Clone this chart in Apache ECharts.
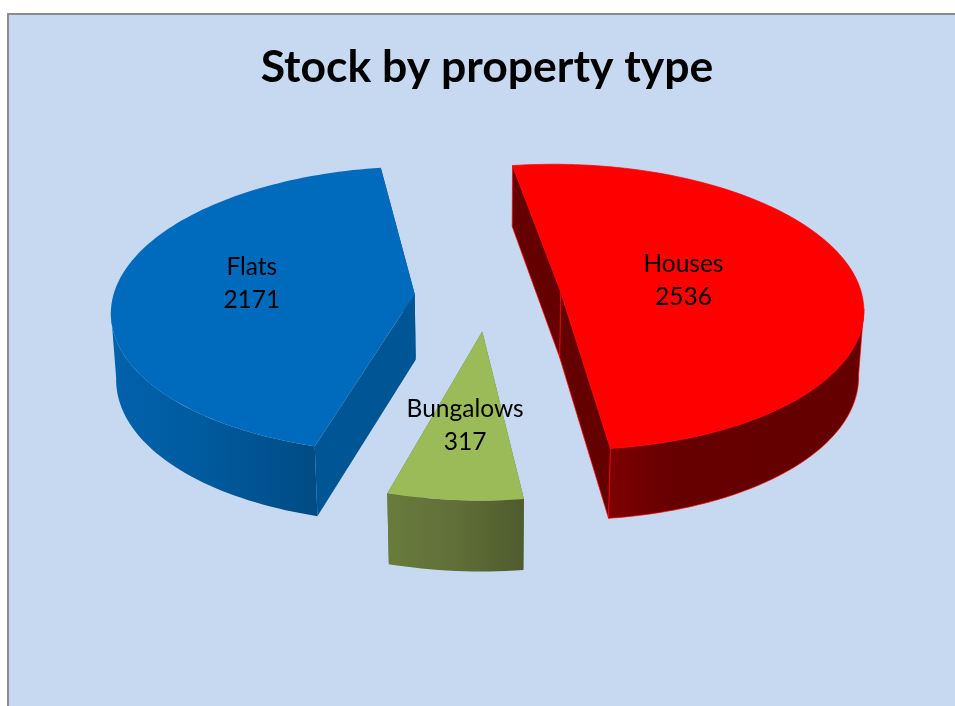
<!DOCTYPE html>
<html>
<head>
<meta charset="utf-8">
<style>html,body{margin:0;padding:0;background:#fff}#c{width:955px;height:706px}</style>
<script src="https://cdn.jsdelivr.net/npm/echarts@6/dist/echarts.min.js"></script>
</head>
<body>
<div id="c"></div>
<script>
const categories = ['Houses', 'Bungalows', 'Flats'];
const values = [2536, 317, 2171];
const titleText = 'Stock by property type';

const topColors = ['#FF0000', '#9BBB59', '#006BBD'];
const cutColors = ['#640000', '#5A6B34', '#005594'];
const edgeColors = ['#FF0000', null, null];
const wallStops = [
  [[0, '#7C0000'], [0.25, '#660000'], [1, '#640000']],
  [[0, '#677D3C'], [0.5, '#616F38'], [1, '#505C2E']],
  [[0, '#0062AB'], [0.45, '#005A9E'], [0.85, '#00508C'], [1, '#004C84']]
];
const wallRange = [[612, 864], [385, 522], [115, 312]];
const labelRadius = [0.41, 0.58, 0.535];
const labelNudge = [[2, -3], [-2, 1], [-3, -6]];

const startAngle = 351.3;
const frontArc = [97, 263];
const view = { cx: 488, cy: 296, rx: 301.5, ry: 142, k: 0.11, kz: 0.014, h: 66, hv: 0.1, explode: 0.244 };
const total = values.reduce((a, b) => a + b, 0);

function project(u, v, z) {
  const f = 1 / (1 - view.k * v + view.kz * z);
  return [view.cx + view.rx * u * f, view.cy + view.ry * v * f + view.h * z * (1 + view.hv * v)];
}

function renderSlice(params, api) {
  const i = params.dataIndex;
  let before = 0;
  for (let j = 0; j < i; j++) before += values[j];
  const span = api.value(0) / total * 360;
  const a0 = startAngle + before / total * 360;
  const a1 = a0 + span;
  const mid = (a0 + a1) / 2 * Math.PI / 180;
  const ou = Math.sin(mid) * view.explode;
  const ov = -Math.cos(mid) * view.explode;
  const rim = (deg, z) => {
    const r = deg * Math.PI / 180;
    return project(ou + Math.sin(r), ov - Math.cos(r), z);
  };
  const arc = (from, to, z) => {
    const pts = [];
    const n = Math.max(8, Math.ceil((to - from) / 1.5));
    for (let s = 0; s <= n; s++) pts.push(rim(from + (to - from) * s / n, z));
    return pts;
  };
  const apex = (z) => project(ou, ov, z);
  const edge = edgeColors[i];
  const stroke = edge ? { stroke: edge, lineWidth: 0.7 } : { stroke: null };
  const children = [];

  // angles normalised to one turn so the visible front of the rim can be picked out
  const base = a0 >= 360 ? a0 - 360 : a0;
  const lo = a0 > 300 && a0 < 360 ? a0 - 360 : base;
  const hi = lo + span;
  const wallFrom = Math.max(lo, frontArc[0]);
  const wallTo = Math.min(hi, frontArc[1]);
  const range = wallRange[i];

  [a1, a0].forEach((deg) => {
    children.push({
      type: 'polygon',
      shape: { points: [apex(0), rim(deg, 0), rim(deg, 1), apex(1)] },
      style: Object.assign({ fill: cutColors[i] }, stroke)
    });
  });
  children.push({
    type: 'polygon',
    shape: { points: arc(wallFrom, wallTo, 0).concat(arc(wallFrom, wallTo, 1).reverse()) },
    style: Object.assign({
      fill: new echarts.graphic.LinearGradient(range[0], 0, range[1], 0,
        wallStops[i].map(s => ({ offset: s[0], color: s[1] })), true)
    }, stroke)
  });
  children.push({
    type: 'polygon',
    shape: { points: [apex(0)].concat(arc(a0, a1, 0)) },
    style: Object.assign({ fill: topColors[i] }, stroke)
  });
  const lp = project(ou + Math.sin(mid) * labelRadius[i], ov - Math.cos(mid) * labelRadius[i], 0);
  children.push({
    type: 'text',
    z2: 10,
    style: {
      text: api.value(1) + '\n' + api.value(0),
      x: lp[0] + labelNudge[i][0],
      y: lp[1] + labelNudge[i][1],
      align: 'center',
      verticalAlign: 'middle',
      fill: '#000',
      font: '24.5px Lato, Carlito, sans-serif',
      lineHeight: 33
    }
  });
  return { type: 'group', children };
}

const chart = echarts.init(document.getElementById('c'), null, { renderer: 'canvas' });
chart.setOption({
  animation: false,
  backgroundColor: '#FFFFFF',
  title: {
    text: titleText,
    left: 482,
    top: 63,
    textAlign: 'center',
    textVerticalAlign: 'middle',
    textStyle: { fontFamily: 'Lato', fontWeight: 'bold', fontSize: 44.5, color: '#000' }
  },
  graphic: [{
    type: 'rect',
    z: -10,
    silent: true,
    shape: { x: 8, y: 14, width: 1000, height: 800 },
    style: { fill: '#C6D9F1', stroke: '#8C8C8C', lineWidth: 2 }
  }],
  series: [{
    type: 'custom',
    name: 'Stock',
    coordinateSystem: 'none',
    renderItem: renderSlice,
    encode: { value: 0 },
    data: categories.map((c, i) => [values[i], c]),
    dimensions: [{ name: 'value', type: 'number' }, { name: 'name', type: 'ordinal' }]
  }]
});
</script>
</body>
</html>
